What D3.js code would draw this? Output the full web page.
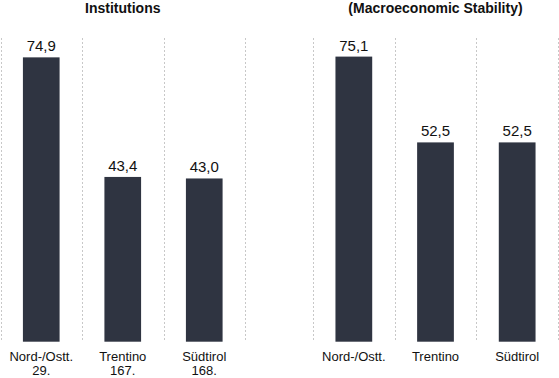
<!DOCTYPE html>
<html>
<head>
<meta charset="utf-8">
<script src="https://cdn.jsdelivr.net/npm/d3@7"></script>
<style>
  body { margin: 0; background: #fff; }
  svg { font-family: "Liberation Sans", Arial, sans-serif; }
</style>
</head>
<body>
<div id="chart"></div>
<script>
// Données
const categories = ['Nord-/Ostt.', 'Trentino', 'Südtirol']
const institutions = [74.9, 43.4, 43.0]
const institutionRanks = ['29.', '167.', '168.']
const macroStability = [75.1, 52.5, 52.5]
const panelTitles = ['Institutions', '(Macroeconomic Stability)']

const width = 559,
    height = 378

const svg = d3.select('#chart')
    .append('svg')
    .attr('width', width)
    .attr('height', height)

// Échelle verticale commune
const y = d3.scaleLinear()
    .domain([0, 80])
    .range([341.7, 38])

const fmt = v => d3.format('.1f')(v).replace('.', ',')

const drawPanel = (x0, x1, title, values, ranks) => {
    const g = svg.append('g')

    const x = d3.scaleBand()
        .domain(categories)
        .range([x0, x1])
        .paddingInner(0)

    // lignes pointillées
    const bounds = categories.map(c => x(c)).concat([x1])
    g.selectAll('line.grid')
        .data(bounds)
        .join('line')
        .attr('class', 'grid')
        .attr('x1', d => Math.round(d) + 0.5)
        .attr('x2', d => Math.round(d) + 0.5)
        .attr('y1', y.range()[1])
        .attr('y2', y.range()[0] - 1)
        .attr('stroke', '#c8c8c8')
        .attr('stroke-dasharray', '2,2')

    // titre
    g.append('text')
        .attr('x', (x0 + x1) / 2)
        .attr('y', 13)
        .attr('text-anchor', 'middle')
        .attr('font-weight', 'bold')
        .attr('font-size', 14)
        .attr('fill', '#111')
        .text(title)

    const bw = x.bandwidth() * 0.45

    // barres
    g.selectAll('rect')
        .data(values)
        .join('rect')
        .attr('x', (d, i) => x(categories[i]) + (x.bandwidth() - bw) / 2)
        .attr('y', d => y(d))
        .attr('width', bw)
        .attr('height', d => y(0) - y(d))
        .attr('fill', '#2f3441')

    // valeurs
    g.selectAll('text.val')
        .data(values)
        .join('text')
        .attr('class', 'val')
        .attr('x', (d, i) => x(categories[i]) + x.bandwidth() / 2)
        .attr('y', d => y(d) - 6)
        .attr('text-anchor', 'middle')
        .attr('font-size', 15)
        .attr('fill', '#111')
        .text(d => fmt(d))

    // catégories
    const lab = g.selectAll('text.cat')
        .data(categories)
        .join('text')
        .attr('class', 'cat')
        .attr('x', d => x(d) + x.bandwidth() / 2)
        .attr('y', 361)
        .attr('text-anchor', 'middle')
        .attr('font-size', 13)
        .attr('fill', '#111')

    lab.append('tspan')
        .attr('x', d => x(d) + x.bandwidth() / 2)
        .text(d => d)

    if (ranks) {
        lab.append('tspan')
            .attr('x', d => x(d) + x.bandwidth() / 2)
            .attr('dy', 14)
            .text((d, i) => ranks[i])
    }
}

drawPanel(0.5, 245, panelTitles[0], institutions, institutionRanks)
drawPanel(313, 558, panelTitles[1], macroStability, null)
</script>
</body>
</html>
